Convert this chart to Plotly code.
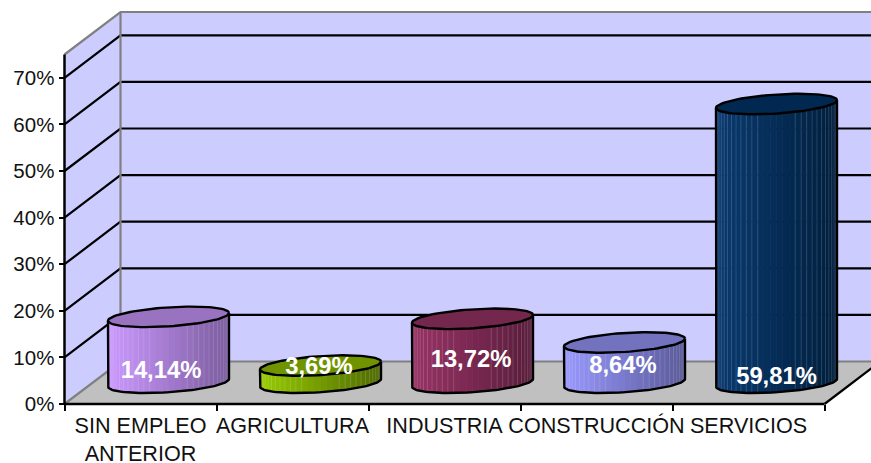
import numpy as np
import plotly.graph_objects as go

categories = ["SIN EMPLEO<br>ANTERIOR", "AGRICULTURA", "INDUSTRIA", "CONSTRUCCIÓN", "SERVICIOS"]
values = [14.14, 3.69, 13.72, 8.64, 59.81]
y_ticks = [0, 10, 20, 30, 40, 50, 60, 70]
y_labels = ["0%", "10%", "20%", "30%", "40%", "50%", "60%", "70%"]

W, H = 871, 463
X0, Y0 = 64.5, 404.0          # pixel origin of the front axes
PX_CAT, PX_PCT = 152.0, 4.66  # pixels per category, per percent
DX, DY = 56 / PX_CAT, 42.5 / PX_PCT  # depth offset in data units
YTOP = 75

left_col = ["#cc99ff", "#99cc00", "#993366", "#9999ff", "#0a3a70"]
right_col = ["#7b5c9e", "#4f6a00", "#591d3b", "#5a5a99", "#001f3d"]
top_col = ["#9a73c0", "#6f9400", "#73274d", "#7272bf", "#002850"]
label_x_shift = [-7.5, -1.5, -1.5, -1.5, 0]   # px
label_y = [6.9, 7.75, 9.2, 7.9, 5.6]          # data label height, %

A = 60.5 / PX_CAT      # cylinder half width
TILT = 3.9 / PX_PCT    # right end higher than left end
B = 9.5 / PX_PCT       # half height of the ellipse


def mix(c1, c2, f):
    a = [int(c1[i:i + 2], 16) for i in (1, 3, 5)]
    b = [int(c2[i:i + 2], 16) for i in (1, 3, 5)]
    return "#%02x%02x%02x" % tuple(int(round(p + (q - p) * f)) for p, q in zip(a, b))


fig = go.Figure()


def poly(x, y, fill=None, line=None, width=0, **kw):
    fig.add_trace(go.Scatter(
        x=x, y=y, mode="lines", hoverinfo="skip", showlegend=False,
        fill="toself" if fill else "none", fillcolor=fill,
        line=dict(color=line or "rgba(0,0,0,0)", width=width), **kw))


XR = (W - X0) / PX_CAT + 0.5
GRAY = "#808080"
# walls and floor
poly([DX, XR, XR, DX, DX], [DY, DY, DY + YTOP, DY + YTOP, DY], fill="#ccccff")
poly([0, DX, DX, 0, 0], [0, DY, DY + YTOP, YTOP, 0], fill="#ccccff")
poly([0, 5, 5 + DX, DX, 0], [0, 0, DY, DY, 0], fill="#c0c0c0")
# grid lines
for v in y_ticks[1:]:
    poly([0, DX, XR], [v, v + DY, v + DY], line="#000000", width=2.2)
# wall borders
poly([0, DX, XR], [YTOP, YTOP + DY, YTOP + DY], line=GRAY, width=2.2)
poly([DX, DX], [DY, YTOP + DY], line=GRAY, width=2.2)
poly([0, DX, XR], [0, DY, DY], line=GRAY, width=2.2)
poly([5, 5 + DX], [0, DY], line="#000000", width=2.2)

# cylinders, derived from the values
N = 30
for i, v in enumerate(values):
    cx = i + 0.5 + DX / 2
    cy = DY / 2
    th = np.linspace(np.pi, 2 * np.pi, N + 1)

    def arc(t, level):
        return cx + A * np.cos(t), level + TILT * np.cos(t) + B * np.sin(t)

    for k in range(N):
        t = np.linspace(th[k], th[k + 1], 5)
        xb, yb = arc(t, cy)
        xt, yt = arc(t, cy + v)
        col = mix(left_col[i], right_col[i], max(0, (xb.mean() - cx + A) / (2 * A)))
        poly(list(xb) + list(xt[::-1]) + [xb[0]], list(yb) + list(yt[::-1]) + [yb[0]],
             fill=col, line=col, width=0.6)
    for k in range(1, N):
        if abs(th[k] - 1.5 * np.pi) > 0.28:
            xb, yb = arc(th[k], cy)
            xt, yt = arc(th[k], cy + v)
            poly([xb, xt], [yb, yt], line="rgba(255,255,255,0.14)", width=1)
    # outline of the body
    t = np.linspace(np.pi, 2 * np.pi, 60)
    xb, yb = arc(t, cy)
    x_l, y_l = arc(np.pi, cy + v)
    x_r, y_r = arc(2 * np.pi, cy + v)
    poly([x_l] + list(xb) + [x_r], [y_l] + list(yb) + [y_r], line="#000000", width=2.4)
    # top cap
    t = np.linspace(0, 2 * np.pi, 90)
    xt, yt = arc(t, cy + v)
    poly(xt, yt, fill=top_col[i], line="#000000", width=2.4)

# front axis lines
poly([0, 0], [0, YTOP], line="#000000", width=2.5)
poly([0, 5], [0, 0], line="#000000", width=2.5)

# data labels
fig.add_trace(go.Scatter(
    x=[i + 0.5 + DX / 2 + label_x_shift[i] / PX_CAT for i in range(5)],
    y=label_y, mode="text", hoverinfo="skip", showlegend=False,
    text=[f"{v:.2f}%".replace(".", ",") for v in values],
    textposition="middle center",
    textfont=dict(family="Liberation Sans", size=23.8, color="#ffffff", weight=700),
))

fig.update_layout(
    width=W, height=H, margin=dict(l=0, r=0, t=0, b=0, autoexpand=False),
    paper_bgcolor="#ffffff", plot_bgcolor="#ffffff", showlegend=False,
    xaxis=dict(
        domain=[0, 1], range=[-X0 / PX_CAT, (W - X0) / PX_CAT],
        anchor="free", position=(H - Y0) / H, automargin=False,
        tickmode="array", tickvals=[i + 0.5 for i in range(5)], ticktext=categories,
        ticks="", tickangle=0, showgrid=False, zeroline=False, showline=False,
        tickfont=dict(family="Liberation Sans", size=21.6, color="#111111"),
        ticklabelstandoff=6,
        minor=dict(tickmode="array", tickvals=list(range(6)), ticks="outside",
                   ticklen=6, tickwidth=2, tickcolor="#000000", showgrid=False),
        fixedrange=True),
    yaxis=dict(
        domain=[0, 1], range=[-(H - Y0) / PX_PCT, Y0 / PX_PCT],
        anchor="free", position=X0 / W, automargin=False,
        tickmode="array", tickvals=y_ticks, ticktext=y_labels, ticks="outside", ticklen=6,
        tickwidth=2, tickcolor="#000000",
        tickfont=dict(family="Liberation Sans", size=20.5, color="#111111"),
        showgrid=False, zeroline=False, showline=False, fixedrange=True),
)

fig.write_html("out.html", config=dict(displayModeBar=False),
               post_script="document.body.style.margin='0';")
